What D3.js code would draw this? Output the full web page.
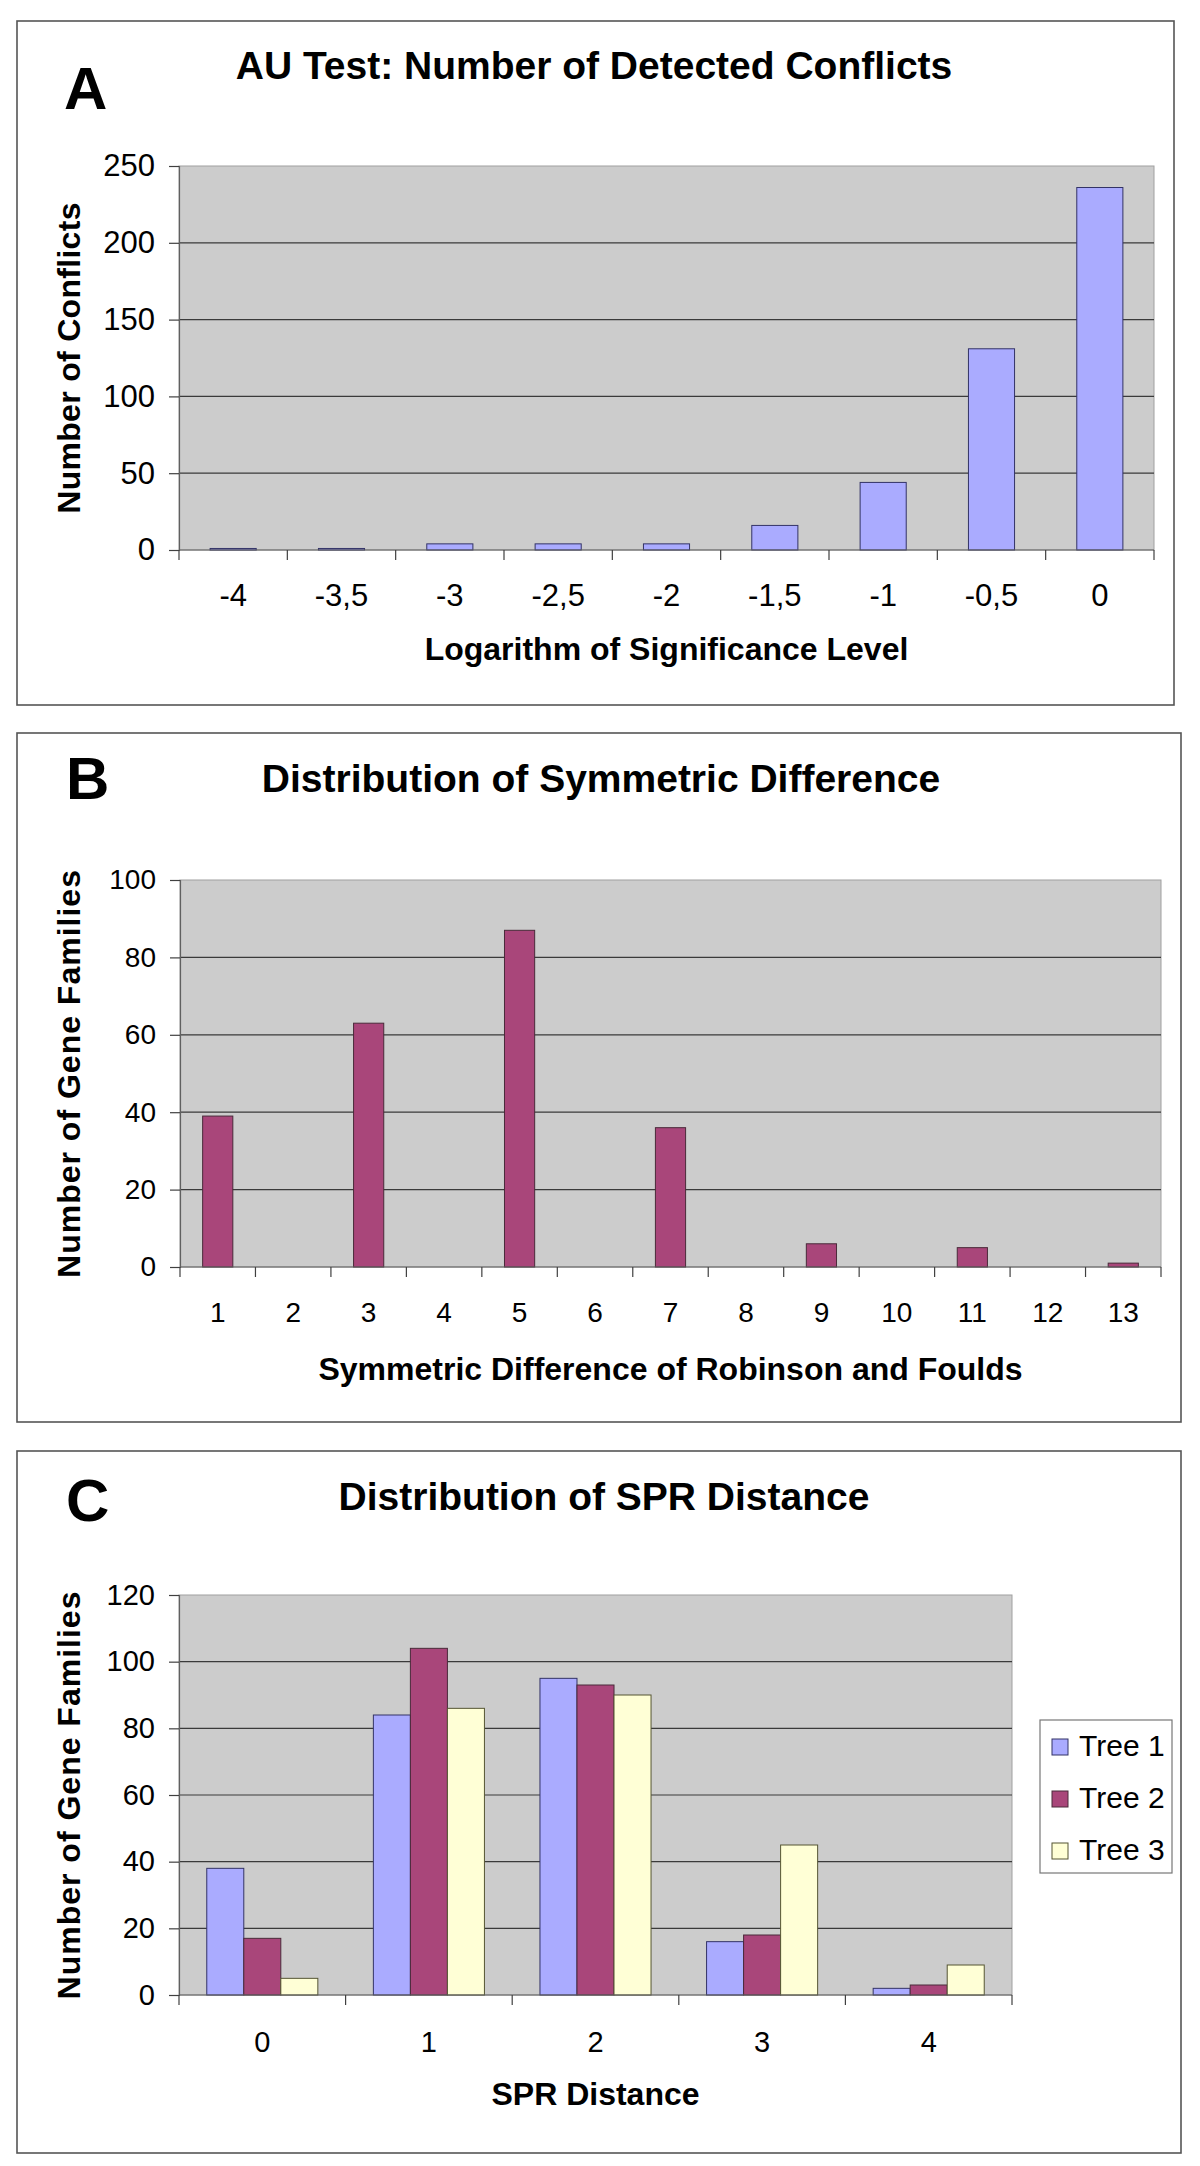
<!DOCTYPE html>
<html>
<head>
<meta charset="utf-8">
<script src="https://cdn.jsdelivr.net/npm/d3@7"></script>
<style>
  html, body { margin: 0; padding: 0; background: #ffffff; }
  svg { display: block; }
  text { font-family: "Liberation Sans", Arial, Helvetica, sans-serif; fill: #000; }
</style>
</head>
<body>
<svg id="chart" width="1200" height="2166"></svg>
<script>
// ---------- Data ----------
const aCategories = ["-4", "-3,5", "-3", "-2,5", "-2", "-1,5", "-1", "-0,5", "0"];
const aValues = [1, 1, 4, 4, 4, 16, 44, 131, 236];
const aYTicks = [0, 50, 100, 150, 200, 250];

const bCategories = ["1", "2", "3", "4", "5", "6", "7", "8", "9", "10", "11", "12", "13"];
const bValues = [39, 0, 63, 0, 87, 0, 36, 0, 6, 0, 5, 0, 1];
const bYTicks = [0, 20, 40, 60, 80, 100];

const cCategories = ["0", "1", "2", "3", "4"];
const cSeriesNames = ["Tree 1", "Tree 2", "Tree 3"];
const cTree1 = [38, 84, 95, 16, 2];
const cTree2 = [17, 104, 93, 18, 3];
const cTree3 = [5, 86, 90, 45, 9];
const cYTicks = [0, 20, 40, 60, 80, 100, 120];

// ---------- Styles ----------
const COL_BLUE = "#aaabff";
const COL_PLUM = "#a9467a";
const COL_CREAM = "#ffffd6";
const PLOT_BG = "#cccccc";

const svg = d3.select("#chart");
svg.append("rect").attr("x", 0).attr("y", 0).attr("width", 1200).attr("height", 2166).attr("fill", "#fff");

function drawPanel(cfg) {
  const g = svg.append("g");
  // panel frame
  g.append("rect")
    .attr("x", cfg.frame[0]).attr("y", cfg.frame[1])
    .attr("width", cfg.frame[2] - cfg.frame[0]).attr("height", cfg.frame[3] - cfg.frame[1])
    .attr("fill", "#fff").attr("stroke", "#555").attr("stroke-width", 1.6);

  const L = cfg.plot[0], T = cfg.plot[1], R = cfg.plot[2], B = cfg.plot[3];

  // panel letter
  g.append("text").attr("x", cfg.letterPos[0]).attr("y", cfg.letterPos[1])
    .attr("font-size", 60).attr("font-weight", "bold").text(cfg.letter);
  // title
  g.append("text").attr("x", cfg.titlePos[0]).attr("y", cfg.titlePos[1])
    .attr("text-anchor", "middle").attr("font-size", 39).attr("font-weight", "bold")
    .text(cfg.title);

  const x = d3.scaleBand().domain(cfg.categories).range([L, R]).padding(0);
  const y = d3.scaleLinear().domain([0, cfg.yMax]).range([B, T]);

  // plot background
  g.append("rect").attr("x", L).attr("y", T).attr("width", R - L).attr("height", B - T)
    .attr("fill", PLOT_BG).attr("stroke", "#a0a0a0").attr("stroke-width", 1);

  // gridlines
  g.append("g").selectAll("line").data(cfg.yTicks.filter(v => v > 0 && v < cfg.yMax)).join("line")
    .attr("x1", L).attr("x2", R).attr("y1", d => y(d)).attr("y2", d => y(d))
    .attr("stroke", "#3a3a3a").attr("stroke-width", 1.2);

  // y axis
  const yAxis = d3.axisLeft(y).tickValues(cfg.yTicks).tickSize(10).tickPadding(14).tickFormat(d3.format("d"));
  const ya = g.append("g").attr("transform", `translate(${L},0)`).call(yAxis);
  ya.select(".domain").attr("stroke", "#606060").attr("stroke-width", 1.2);
  ya.selectAll(".tick line").attr("stroke", "#404040").attr("stroke-width", 1.2);
  ya.selectAll(".tick text").attr("font-size", cfg.tickFont)
    .attr("font-family", '"Liberation Sans", Arial, sans-serif').attr("fill", "#000");

  // bars
  cfg.drawBars(g, x, y);

  // x axis (ticks at category boundaries)
  const xa = g.append("g");
  xa.append("line").attr("x1", L).attr("x2", R).attr("y1", B).attr("y2", B)
    .attr("stroke", "#606060").attr("stroke-width", 1.2);
  const bounds = cfg.categories.map(c => x(c)).concat([R]);
  xa.selectAll("line.tk").data(bounds).join("line").attr("class", "tk")
    .attr("x1", d => d).attr("x2", d => d).attr("y1", B).attr("y2", B + 10)
    .attr("stroke", "#404040").attr("stroke-width", 1.2);
  xa.selectAll("text").data(cfg.categories).join("text")
    .attr("x", d => x(d) + x.bandwidth() / 2).attr("y", B + cfg.xTickOffset)
    .attr("text-anchor", "middle").attr("font-size", cfg.tickFont).text(d => d);

  // axis titles
  g.append("text").attr("x", (L + R) / 2).attr("y", B + cfg.xTitleOffset)
    .attr("text-anchor", "middle").attr("font-size", 32).attr("font-weight", "bold")
    .text(cfg.xTitle);
  g.append("text").attr("transform", `translate(80,${(T + B) / 2}) rotate(-90)`)
    .attr("text-anchor", "middle").attr("font-size", 32).attr("font-weight", "bold")
    .attr("letter-spacing", cfg.yTitleSpacing || 0)
    .text(cfg.yTitle);
  return { x, y };
}

// ---------- Panel A ----------
drawPanel({
  frame: [17, 21, 1174, 705],
  plot: [179, 166, 1154, 550],
  letter: "A", letterPos: [64, 109],
  title: "AU Test: Number of Detected Conflicts", titlePos: [594, 79],
  categories: aCategories, yMax: 250, yTicks: aYTicks,
  tickFont: 31, xTickOffset: 56, xTitleOffset: 110,
  xTitle: "Logarithm of Significance Level",
  yTitle: "Number of Conflicts", yTitleSpacing: 0.3,
  drawBars: (g, x, y) => {
    const w = x.bandwidth() / 2.35;
    g.append("g").selectAll("rect").data(aCategories.map((c, i) => ({ c, v: aValues[i] }))).join("rect")
      .attr("x", d => x(d.c) + (x.bandwidth() - w) / 2).attr("width", w)
      .attr("y", d => y(d.v)).attr("height", d => y(0) - y(d.v))
      .attr("fill", COL_BLUE).attr("stroke", "#333366").attr("stroke-width", 1);
  }
});

// ---------- Panel B ----------
drawPanel({
  frame: [17, 733, 1181, 1422],
  plot: [180, 880, 1161, 1267],
  letter: "B", letterPos: [66, 799],
  title: "Distribution of Symmetric Difference", titlePos: [601, 792],
  categories: bCategories, yMax: 100, yTicks: bYTicks,
  tickFont: 28, xTickOffset: 55, xTitleOffset: 113,
  xTitle: "Symmetric Difference of Robinson and Foulds",
  yTitle: "Number of Gene Families", yTitleSpacing: 1,
  drawBars: (g, x, y) => {
    const w = x.bandwidth() / 2.5;
    g.append("g").selectAll("rect").data(bCategories.map((c, i) => ({ c, v: bValues[i] })).filter(d => d.v > 0)).join("rect")
      .attr("x", d => x(d.c) + (x.bandwidth() - w) / 2).attr("width", w)
      .attr("y", d => y(d.v)).attr("height", d => y(0) - y(d.v))
      .attr("fill", COL_PLUM).attr("stroke", "#4a2a3a").attr("stroke-width", 1);
  }
});

// ---------- Panel C ----------
const cSeries = [cTree1, cTree2, cTree3];
const cColors = [COL_BLUE, COL_PLUM, COL_CREAM];
const cStrokes = ["#333366", "#4a2a3a", "#555533"];
drawPanel({
  frame: [17, 1451, 1181, 2153],
  plot: [179, 1595, 1012, 1995],
  letter: "C", letterPos: [66, 1521],
  title: "Distribution of SPR Distance", titlePos: [604, 1510],
  categories: cCategories, yMax: 120, yTicks: cYTicks,
  tickFont: 29, xTickOffset: 57, xTitleOffset: 110,
  xTitle: "SPR Distance",
  yTitle: "Number of Gene Families", yTitleSpacing: 1,
  drawBars: (g, x, y) => {
    const w = x.bandwidth() / 4.5;
    const xs = d3.scaleBand().domain(cSeriesNames).range([0, 3 * w]).padding(0);
    cSeries.forEach((vals, si) => {
      g.append("g").selectAll("rect").data(cCategories.map((c, i) => ({ c, v: vals[i] }))).join("rect")
        .attr("x", d => x(d.c) + 0.75 * w + xs(cSeriesNames[si])).attr("width", xs.bandwidth())
        .attr("y", d => y(d.v)).attr("height", d => y(0) - y(d.v))
        .attr("fill", cColors[si]).attr("stroke", cStrokes[si]).attr("stroke-width", 1);
    });
    // legend
    const lg = svg.append("g");
    lg.append("rect").attr("x", 1040).attr("y", 1720).attr("width", 132).attr("height", 153)
      .attr("fill", "#fff").attr("stroke", "#777").attr("stroke-width", 1.2);
    cSeriesNames.forEach((name, i) => {
      lg.append("rect").attr("x", 1052).attr("y", 1739 + i * 52).attr("width", 16).attr("height", 16)
        .attr("fill", cColors[i]).attr("stroke", cStrokes[i]).attr("stroke-width", 1);
      lg.append("text").attr("x", 1079).attr("y", 1756 + i * 52).attr("font-size", 30).text(name);
    });
  }
});
</script>
</body>
</html>
